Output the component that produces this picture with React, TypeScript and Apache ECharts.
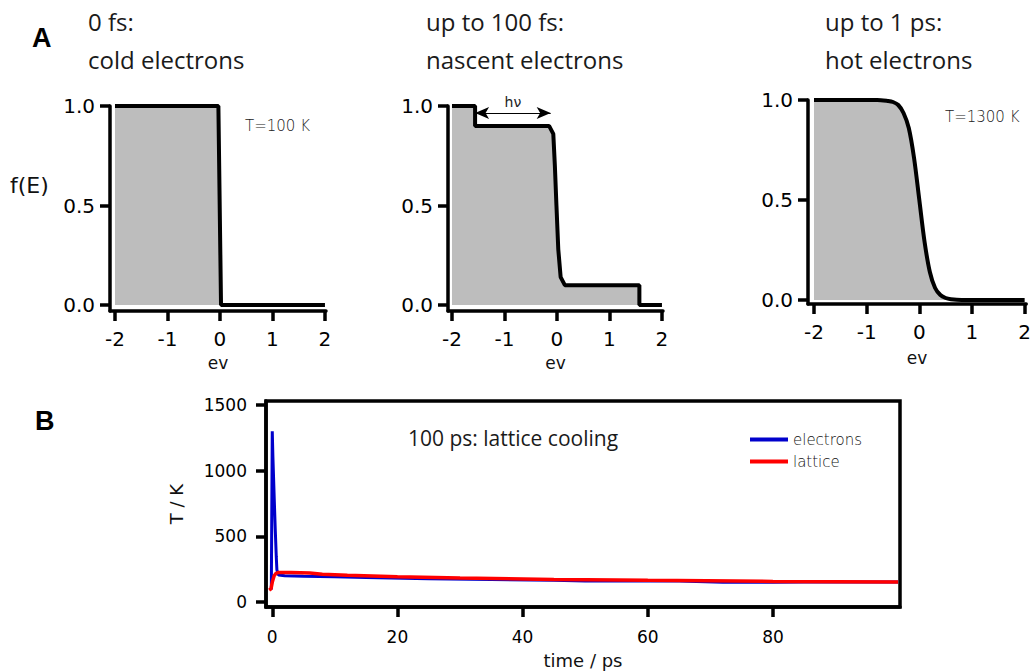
import React, { useEffect, useRef } from "react";
import * as echarts from "echarts";

// ---------- data ----------
const evTicks = [-2, -1, 0, 1, 2];
const fTicks = [0, 0.5, 1];

const coldE = [-2, -0.03, 0.02, 2];
const coldF = [1, 1, 0, 0];

const nascentE = [-2, -1.56, -1.56, -0.15, -0.07, -0.04, -0.01, 0.025, 0.07, 0.15, 1.57, 1.57, 2];
const nascentF = [1, 1, 0.9, 0.9, 0.86, 0.7, 0.5, 0.28, 0.14, 0.1, 0.1, 0, 0];

const hotE = [-2, -0.8, -0.6, -0.5, -0.4, -0.3, -0.2, -0.1, 0, 0.1, 0.2, 0.3, 0.4, 0.5, 0.6, 0.8, 2];
const hotF = [1, 1, 0.995, 0.99, 0.975, 0.935, 0.86, 0.71, 0.5, 0.29, 0.14, 0.06, 0.025, 0.01, 0.004, 0, 0];

const photonSpan = [-1.56, -0.12];
const photonLevel = 0.965;

const timeTicks = [0, 20, 40, 60, 80];
const tempTicks = [0, 500, 1000, 1500];

const electronTime = [-0.15, 0, 0.1, 0.32, 0.48, 0.64, 0.74, 1.0, 2, 5, 10, 15, 25, 35, 45, 50, 55, 65, 72, 80, 85, 100];
const electronTemp = [95, 1300, 1110, 780, 550, 345, 245, 205, 200, 196, 192, 187, 177, 172, 165, 160, 162, 160, 150, 150, 153, 152];

const latticeTime = [-0.5, -0.2, 0, 0.3, 0.6, 1, 3, 6, 8, 12, 20, 30, 45, 60, 80, 100];
const latticeTemp = [90, 100, 150, 200, 218, 225, 225, 220, 212, 203, 192, 183, 172, 165, 157, 153];

const pairs = (xs: number[], ys: number[]) => xs.map((x, i) => [x, ys[i]]);

// ---------- styling helpers ----------
const AXIS_FONT = "'DejaVu Sans', sans-serif";
const TITLE_FONT = "'Open Sans', sans-serif";

function valueAxis(opts: any) {
  const { min, max, ticks, margin, formatter, name, nameGap, gridIndex } = opts;
  return {
    type: "value",
    gridIndex,
    min,
    max,
    name,
    nameLocation: "middle",
    nameGap,
    nameTextStyle: { fontFamily: AXIS_FONT, fontSize: opts.nameSize || 16, color: "#111" },
    axisLine: { show: true, onZero: false, lineStyle: { color: "#000", width: 3.5 } },
    axisTick: { show: true, length: 10, customValues: ticks, lineStyle: { color: "#000", width: 3.5 } },
    axisLabel: {
      customValues: ticks,
      margin,
      fontFamily: AXIS_FONT,
      fontSize: opts.labelSize || 20,
      color: "#000",
      formatter,
    },
    splitLine: { show: false },
  };
}

function fermiSeries(xs: number[], ys: number[], idx: number, extra: any = {}) {
  return {
    type: "line",
    xAxisIndex: idx,
    yAxisIndex: idx,
    data: pairs(xs, ys),
    symbol: "none",
    smooth: extra.smooth || false,
    lineStyle: { color: "#000", width: 4 },
    areaStyle: { color: "#bdbdbd", opacity: 1 },
    z: 3,
    ...(extra.markLine ? { markLine: extra.markLine } : {}),
  };
}

export default function App() {
  const ref = useRef<HTMLDivElement>(null);

  useEffect(() => {
    document.body.style.margin = "0";
    if (!ref.current) return;
    const chart = echarts.init(ref.current, undefined, { renderer: "svg" });

    const fmt1 = (v: number) => v.toFixed(1);
    const fmt0 = (v: number) => String(v);

    const option: any = {
      animation: false,
      backgroundColor: "#fff",
      grid: [
        { left: 110, top: 106, width: 216, height: 205 },
        { left: 448, top: 106, width: 215, height: 205 },
        { left: 808, top: 100, width: 219, height: 204 },
        { left: 266, top: 401, width: 634, height: 206, show: true, borderColor: "#000", borderWidth: 3.5 },
      ],
      xAxis: [
        valueAxis({ gridIndex: 0, min: -2.095, max: 2.02, ticks: evTicks, margin: 18, formatter: fmt0, name: "ev", nameGap: 43, nameSize: 17 }),
        valueAxis({ gridIndex: 1, min: -2.076, max: 2.02, ticks: evTicks, margin: 18, formatter: fmt0, name: "ev", nameGap: 43, nameSize: 17 }),
        valueAxis({ gridIndex: 2, min: -2.114, max: 2.03, ticks: evTicks, margin: 18, formatter: fmt0, name: "ev", nameGap: 45, nameSize: 17 }),
        valueAxis({ gridIndex: 3, min: -1, max: 100.3, ticks: timeTicks, margin: 21, formatter: fmt0, name: "time / ps", nameGap: 44, nameSize: 18, labelSize: 17 }),
      ],
      yAxis: [
        valueAxis({ gridIndex: 0, min: -0.03, max: 1, ticks: fTicks, margin: 15, formatter: fmt1 }),
        valueAxis({ gridIndex: 1, min: -0.03, max: 1, ticks: fTicks, margin: 15, formatter: fmt1 }),
        valueAxis({ gridIndex: 2, min: -0.02, max: 1, ticks: fTicks, margin: 15, formatter: fmt1 }),
        valueAxis({ gridIndex: 3, min: -38, max: 1530, ticks: tempTicks, margin: 19, formatter: fmt0, name: "T / K", nameGap: 81, nameSize: 18, labelSize: 17 }),
      ],
      legend: {
        data: ["electrons", "lattice"],
        orient: "vertical",
        left: 745,
        top: 426,
        icon: "rect",
        itemWidth: 38,
        itemHeight: 4,
        itemGap: 5,
        textStyle: { fontFamily: "'DejaVu Sans', sans-serif", fontWeight: 200, fontSize: 15, color: "#111", lineHeight: 17 },
      },
      series: [
        fermiSeries(coldE, coldF, 0),
        fermiSeries(nascentE, nascentF, 1, {
          markLine: {
            silent: true,
            symbol: ["arrow", "arrow"],
            symbolSize: [9, 14],
            lineStyle: { color: "#000", width: 1.2, type: "solid" },
            label: {
              show: true,
              position: "insideMiddleTop",
              formatter: "hν",
              fontFamily: "'DejaVu Sans', sans-serif",
              fontSize: 14,
              color: "#222",
              distance: 4,
            },
            data: [[{ coord: [photonSpan[0], photonLevel] }, { coord: [photonSpan[1], photonLevel] }]],
          },
        }),
        fermiSeries(hotE, hotF, 2, { smooth: 0.3 }),
        {
          name: "electrons",
          type: "line",
          xAxisIndex: 3,
          yAxisIndex: 3,
          data: pairs(electronTime, electronTemp),
          symbol: "none",
          lineStyle: { color: "#0000cc", width: 3 },
          itemStyle: { color: "#0000cc" },
          z: 3,
        },
        {
          name: "lattice",
          type: "line",
          xAxisIndex: 3,
          yAxisIndex: 3,
          data: pairs(latticeTime, latticeTemp),
          symbol: "none",
          lineStyle: { color: "#ff0000", width: 3.5 },
          itemStyle: { color: "#ff0000" },
          z: 4,
        },
      ],
      graphic: [
        { type: "text", x: 32, y: 38, style: { text: "A", font: "bold 27px 'Liberation Sans', Arial", fill: "#000", verticalAlign: "middle" } },
        { type: "text", x: 35, y: 421, style: { text: "B", font: "bold 27px 'Liberation Sans', Arial", fill: "#000", verticalAlign: "middle" } },
        { type: "text", x: 88, y: 21, style: { text: "0 fs:", font: `24px ${TITLE_FONT}`, fill: "#1a1a1a", verticalAlign: "middle" } },
        { type: "text", x: 88, y: 59, style: { text: "cold electrons", font: `24px ${TITLE_FONT}`, fill: "#1a1a1a", verticalAlign: "middle" } },
        { type: "text", x: 426, y: 21, style: { text: "up to 100 fs:", font: `24px ${TITLE_FONT}`, fill: "#1a1a1a", verticalAlign: "middle" } },
        { type: "text", x: 426, y: 59, style: { text: "nascent electrons", font: `24px ${TITLE_FONT}`, fill: "#1a1a1a", verticalAlign: "middle" } },
        { type: "text", x: 825, y: 21, style: { text: "up to 1 ps:", font: `24px ${TITLE_FONT}`, fill: "#1a1a1a", verticalAlign: "middle" } },
        { type: "text", x: 825, y: 59, style: { text: "hot electrons", font: `24px ${TITLE_FONT}`, fill: "#1a1a1a", verticalAlign: "middle" } },
        { type: "text", x: 408, y: 438, style: { text: "100 ps: lattice cooling", font: `21px ${TITLE_FONT}`, fill: "#1a1a1a", verticalAlign: "middle" } },
        { type: "text", x: 10, y: 185, style: { text: "f(E)", font: `22px ${AXIS_FONT}`, fill: "#111", verticalAlign: "middle" } },
        { type: "text", x: 245, y: 126, style: { text: "T=100 K", font: "200 15px 'DejaVu Sans', sans-serif", fill: "#222", verticalAlign: "middle" } },
        { type: "text", x: 945, y: 117, style: { text: "T=1300 K", font: "200 15px 'DejaVu Sans', sans-serif", fill: "#222", verticalAlign: "middle" } },
      ],
    };

    chart.setOption(option);
    return () => chart.dispose();
  }, []);

  return <div ref={ref} style={{ width: 1034, height: 672 }} />;
}
